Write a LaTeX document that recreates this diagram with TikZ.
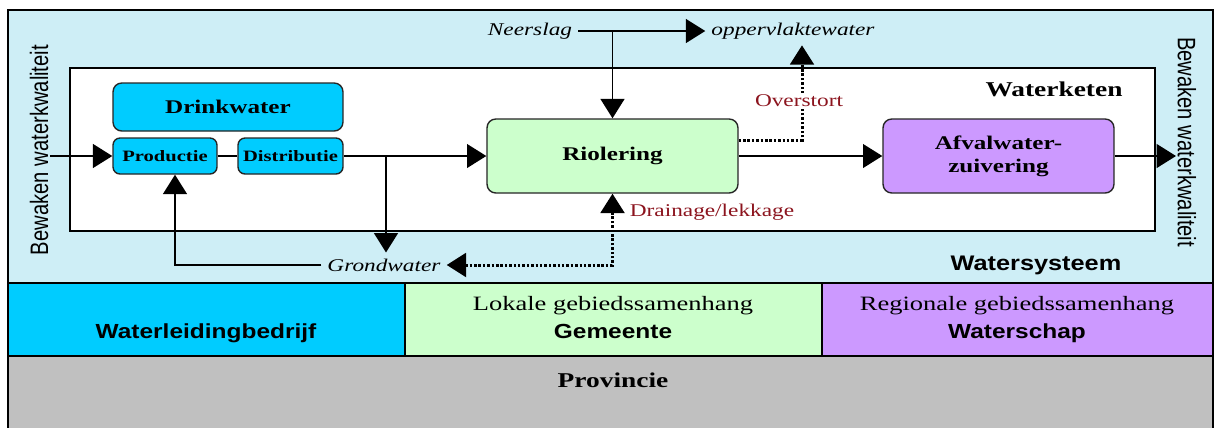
\documentclass[tikz,border=0pt]{standalone}
\usepackage{fontspec}
\setmainfont[FakeStretch=1.3]{Liberation Serif}
\setsansfont[FakeStretch=1.2]{Liberation Sans}
\newfontfamily\sidefont{Liberation Sans}
\usetikzlibrary{arrows.meta}
\definecolor{systeemblauw}{RGB}{206,238,246}
\definecolor{drinkblauw}{RGB}{0,204,255}
\definecolor{rioolgroen}{RGB}{204,255,204}
\definecolor{zuiverpaars}{RGB}{204,153,255}
\definecolor{provgrijs}{RGB}{192,192,192}
\definecolor{stroomrood}{RGB}{140,20,30}
\tikzset{
  proces/.style={draw=black!85,line width=0.8pt,rounded corners=5pt,align=center,inner sep=0pt,
    font=\bfseries\fontsize{11}{13}\selectfont},
  stroom/.style={->,line width=1.1pt},
  overloop/.style={line width=1.7pt,dash pattern=on 1.4pt off 1.1pt},
  waterlabel/.style={font=\itshape\fontsize{10.2}{12}\selectfont},
  overlooplabel/.style={text=stroomrood,font=\fontsize{10.2}{12}\selectfont},
  zijlabel/.style={font=\sidefont\fontsize{11.5}{12}\selectfont},
  vak/.style={line width=1.1pt},
  vaktekst/.style={anchor=base,font=\fontsize{11.6}{16}\selectfont},
  vakkop/.style={anchor=base,font=\sffamily\bfseries\fontsize{11.6}{16}\selectfont}
}
\begin{document}
\begin{tikzpicture}[x=0.02cm,y=-0.02cm,>={Triangle[length=11pt,width=13.5pt]}]
    \useasboundingbox (0,0) rectangle (1217,427);
    % bestuurlijke lagen
    \draw[vak,fill=provgrijs] (8,356) rectangle (1213,440);
    \draw[vak,fill=drinkblauw] (8,283) rectangle (405,356);
    \draw[vak,fill=rioolgroen] (405,283) rectangle (822,356);
    \draw[vak,fill=zuiverpaars] (822,283) rectangle (1213,356);
    \node[vakkop] (bedrijf) at (206,338) {Waterleidingbedrijf};
    \node[vaktekst] (lokaal) at (613,310) {Lokale gebiedssamenhang};
    \node[vakkop] (gemeente) at (613,338) {Gemeente};
    \node[vaktekst] (regionaal) at (1017,310) {Regionale gebiedssamenhang};
    \node[vakkop] (waterschap) at (1017,338) {Waterschap};
    \node[anchor=base,font=\bfseries\fontsize{12}{14}\selectfont] (provincie) at (613,387) {Provincie};

    % watersysteem en waterketen
    \draw[line width=0.9pt,fill=systeemblauw] (8,10) rectangle (1213,283);
    \draw[line width=0.9pt,fill=white] (70,68) rectangle (1155,231);
    \node[font=\bfseries\fontsize{12}{14}\selectfont] (waterketen) at (1054,89) {Waterketen};
    \node[font=\sffamily\bfseries\fontsize{12}{14}\selectfont] (watersysteem) at (1036,265) {Watersysteem};
    \node[zijlabel,rotate=90] (bewakenin) at (39,150) {\scalebox{1}[1.25]{Bewaken waterkwaliteit}};
    \node[zijlabel,rotate=-90] (bewakenuit) at (1187,142) {\scalebox{1}[1.25]{Bewaken waterkwaliteit}};

    % ketenonderdelen
    \node[proces,fill=drinkblauw,minimum width=4.6cm,minimum height=0.96cm] (drinkwater) at (228,107) {Drinkwater};
    \node[proces,fill=drinkblauw,rounded corners=4pt,minimum width=2.08cm,minimum height=0.72cm,
      font=\bfseries\fontsize{9}{11}\selectfont] (productie) at (165,156) {Productie};
    \node[proces,fill=drinkblauw,rounded corners=4pt,minimum width=2.1cm,minimum height=0.72cm,
      font=\bfseries\fontsize{9}{11}\selectfont] (distributie) at (290.5,156) {Distributie};
    \node[proces,fill=rioolgroen,minimum width=5.02cm,minimum height=1.48cm] (riolering) at (612.5,156) {Riolering};
    \node[proces,fill=zuiverpaars,minimum width=4.62cm,minimum height=1.48cm] (afvalwater) at (998.5,156) {Afvalwater-\\zuivering};

    % water buiten de keten
    \node[waterlabel] (neerslag) at (530,31) {Neerslag};
    \node[waterlabel] (oppervlakte) at (793,31) {oppervlaktewater};
    \node[waterlabel] (grondwater) at (384,265) {Grondwater};

    % stromen
    \coordinate (inlaat) at (50,156);
    \coordinate (splitsing) at (386,156);
    \coordinate (uitlaat) at (1176,156);
    \draw[stroom] (inlaat) -- (productie.west);
    \draw[line width=1.1pt] (productie.east) -- (distributie.west);
    \draw[stroom] (distributie.east) -- (riolering.west);
    \draw[stroom] (splitsing) -- (splitsing |- grondwater.north);
    \draw[stroom] (grondwater.west) -| ([xshift=0.2cm]productie.south);
    \draw[stroom] (neerslag.east) -- (oppervlakte.west);
    \draw[stroom] (neerslag.east -| riolering.north) -- (riolering.north);
    \draw[stroom] (riolering.east) -- (afvalwater.west);
    \draw[stroom] (afvalwater.east) -- (uitlaat);
    \draw[overloop,->] ([yshift=0.32cm]riolering.east) -| ([xshift=0.18cm]oppervlakte.south);
    \draw[overloop,<->] (grondwater.east) -| (riolering.south);
    \node[overlooplabel,fill=white,inner sep=1pt] (overstort) at (799,101) {Overstort};
    \node[overlooplabel] (drainage) at (712,212) {Drainage/lekkage};
\end{tikzpicture}
\end{document}
